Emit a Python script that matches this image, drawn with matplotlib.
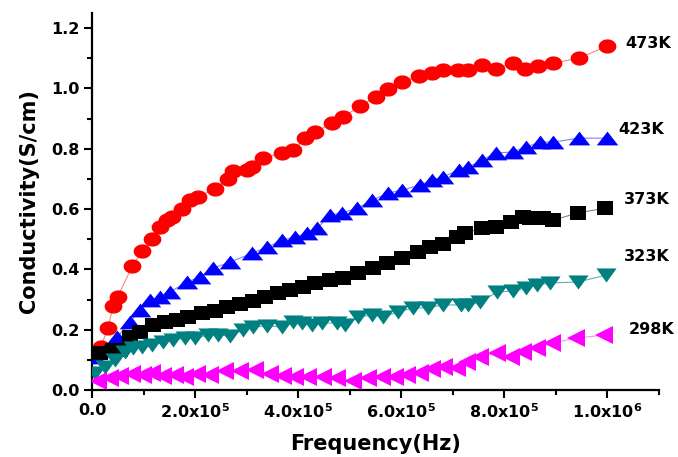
import matplotlib
matplotlib.use("Agg")
import numpy as np
import matplotlib.pyplot as plt
from matplotlib.ticker import MultipleLocator, FixedLocator, FixedFormatter, FormatStrFormatter

plt.rcParams['font.family'] = ['DejaVu Sans']
plt.rcParams['mathtext.fontset'] = 'dejavusans'
plt.rcParams['mathtext.default'] = 'bf'

# Frequency in units of 1e5 Hz, conductivity in S/cm
x_473 = [0.17, 0.31, 0.41, 0.50, 0.78, 0.97, 1.17, 1.32, 1.46, 1.56, 1.75, 1.90, 2.06, 2.39, 2.64, 2.74,
         3.01, 3.10, 3.32, 3.69, 3.90, 4.14, 4.33, 4.66, 4.87, 5.2, 5.5, 5.75, 6.02, 6.35, 6.6, 6.8,
         7.1, 7.3, 7.57, 7.83, 8.16, 8.4, 8.66, 8.95, 9.44, 10.0]
y_473 = [0.143, 0.205, 0.28, 0.31, 0.41, 0.46, 0.50, 0.54, 0.565, 0.575, 0.60, 0.63, 0.64, 0.668, 0.70, 0.725,
         0.73, 0.74, 0.77, 0.785, 0.795, 0.835, 0.855, 0.885, 0.905, 0.941, 0.971, 0.998, 1.021, 1.041, 1.051, 1.061,
         1.061, 1.061, 1.077, 1.064, 1.084, 1.064, 1.074, 1.084, 1.10, 1.14]

x_423 = [0.06, 0.25, 0.49, 0.74, 0.93, 1.13, 1.32, 1.51, 1.84, 2.10, 2.35, 2.68, 3.11, 3.40, 3.69, 3.94,
         4.17, 4.37, 4.62, 4.85, 5.15, 5.44, 5.75, 6.02, 6.37, 6.60, 6.80, 7.11, 7.30, 7.57, 7.83, 8.16,
         8.41, 8.70, 8.95, 9.44, 10.0]
y_423 = [0.109, 0.133, 0.176, 0.225, 0.265, 0.298, 0.308, 0.325, 0.358, 0.375, 0.404, 0.424, 0.454, 0.474, 0.497, 0.507,
         0.520, 0.537, 0.580, 0.587, 0.603, 0.630, 0.653, 0.663, 0.680, 0.696, 0.706, 0.729, 0.739, 0.762, 0.786, 0.789,
         0.805, 0.822, 0.822, 0.835, 0.835]

x_373 = [0.16, 0.41, 0.54, 0.74, 0.93, 1.18, 1.42, 1.65, 1.86, 2.14, 2.39, 2.62, 2.87, 3.13, 3.36, 3.61,
         3.84, 4.10, 4.33, 4.62, 4.87, 5.17, 5.46, 5.73, 6.02, 6.33, 6.56, 6.80, 7.09, 7.24, 7.57, 7.83,
         8.12, 8.37, 8.50, 8.74, 8.95, 9.42, 9.96]
y_373 = [0.123, 0.133, 0.133, 0.176, 0.192, 0.215, 0.225, 0.232, 0.242, 0.255, 0.262, 0.275, 0.285, 0.295, 0.308, 0.322,
         0.331, 0.341, 0.355, 0.365, 0.371, 0.388, 0.404, 0.421, 0.438, 0.457, 0.474, 0.484, 0.507, 0.520, 0.537, 0.540,
         0.557, 0.573, 0.570, 0.570, 0.563, 0.587, 0.603]

x_323 = [0.06, 0.25, 0.45, 0.64, 0.80, 0.97, 1.17, 1.38, 1.57, 1.81, 2.0, 2.25, 2.45, 2.68, 2.93, 3.13,
         3.40, 3.69, 3.90, 4.08, 4.27, 4.47, 4.76, 4.91, 5.17, 5.44, 5.65, 5.94, 6.23, 6.52, 6.80, 7.15,
         7.30, 7.53, 7.86, 8.16, 8.41, 8.64, 8.89, 9.42, 9.98]
y_323 = [0.056, 0.076, 0.099, 0.126, 0.139, 0.143, 0.149, 0.159, 0.166, 0.172, 0.172, 0.182, 0.182, 0.179, 0.199, 0.209,
         0.212, 0.209, 0.225, 0.222, 0.215, 0.222, 0.222, 0.215, 0.242, 0.249, 0.242, 0.259, 0.272, 0.272, 0.282, 0.282,
         0.282, 0.292, 0.325, 0.328, 0.338, 0.348, 0.355, 0.358, 0.381]

x_298 = [0.12, 0.35, 0.54, 0.78, 0.99, 1.17, 1.38, 1.61, 1.81, 2.04, 2.29, 2.58, 2.87, 3.17, 3.46, 3.71,
         3.94, 4.19, 4.49, 4.76, 5.07, 5.36, 5.63, 5.88, 6.12, 6.37, 6.60, 6.82, 7.09, 7.28, 7.53, 7.86,
         8.12, 8.37, 8.64, 8.93, 9.38, 9.94]
y_298 = [0.030, 0.040, 0.046, 0.053, 0.050, 0.056, 0.046, 0.050, 0.043, 0.053, 0.050, 0.063, 0.063, 0.066, 0.053, 0.046,
         0.043, 0.043, 0.043, 0.040, 0.030, 0.040, 0.043, 0.043, 0.050, 0.056, 0.070, 0.076, 0.073, 0.093, 0.109, 0.123,
         0.109, 0.126, 0.139, 0.156, 0.172, 0.182]

series_labels = ['473K', '423K', '373K', '323K', '298K']
label_pos = [(10.35, 1.15), (10.21, 0.865), (10.31, 0.63), (10.31, 0.441), (10.41, 0.199)]
x_ticks = [0, 2, 4, 6, 8, 10]
x_tick_labels = ['0.0', r'2.0x10$^{5}$', r'4.0x10$^{5}$', r'6.0x10$^{5}$', r'8.0x10$^{5}$', r'1.0x10$^{6}$']

# Marker shapes (slightly wide, as in the reference)
t = np.linspace(0, 2 * np.pi, 40)
m_ellipse = np.column_stack([np.cos(t), 0.8 * np.sin(t)])
m_up = [(-1, -0.64), (1, -0.64), (0, 0.64), (-1, -0.64)]
m_down = [(-1, 0.7), (1, 0.7), (0, -0.7), (-1, 0.7)]
m_rect = [(-1, -0.85), (1, -0.85), (1, 0.85), (-1, 0.85), (-1, -0.85)]

fig = plt.figure(figsize=(6.78, 4.57), dpi=100)
ax = fig.add_axes([0.1357, 0.1466, 0.972 - 0.1357, 0.9716 - 0.1466])

styles = [
    (x_473, y_473, m_ellipse, '#ff0000', '#ff8080', 12.8),
    (x_423, y_423, m_up, '#0000ff', '#8080ff', 15.5),
    (x_373, y_373, m_rect, '#000000', '#808080', 11.3),
    (x_323, y_323, m_down, '#008080', '#60b0b0', 14.5),
    (x_298, y_298, '<', '#ff00ff', '#ff90ff', 12.7),
]
for i, (xs, ys, m, c, lc, ms) in enumerate(styles):
    xv = [v * 1e5 for v in xs]
    ax.plot(xv, ys, '-', color=lc, lw=0.8, zorder=2 + i)
    ax.plot(xv, ys, linestyle='none', marker=m, color=c, markersize=ms, markeredgewidth=0, zorder=2 + i)

for lab, (lx, ly) in zip(series_labels, label_pos):
    ax.text(lx * 1e5, ly, lab, fontsize=11.5, fontweight='bold', va='center', ha='left')

ax.set_xlim(0, 1.1e6)
ax.set_ylim(0, 1.25)
ax.xaxis.set_major_locator(FixedLocator([v * 1e5 for v in x_ticks]))
ax.xaxis.set_major_formatter(FixedFormatter(x_tick_labels))
ax.xaxis.set_minor_locator(MultipleLocator(1e5))
ax.yaxis.set_major_locator(MultipleLocator(0.2))
ax.yaxis.set_minor_locator(MultipleLocator(0.1))
ax.yaxis.set_major_formatter(FormatStrFormatter('%.1f'))

for s in ['top', 'right']:
    ax.spines[s].set_visible(False)
for s in ['left', 'bottom']:
    ax.spines[s].set_linewidth(1.6)

ax.tick_params(which='major', length=5.5, width=1.5, labelsize=11.5, direction='out')
ax.tick_params(which='minor', length=3.5, width=1.5, direction='out')
for lbl in ax.get_xticklabels() + ax.get_yticklabels():
    lbl.set_fontweight('bold')

ax.set_xlabel('Frequency(Hz)', fontsize=15, fontweight='bold', labelpad=9)
ax.set_ylabel('Conductivity(S/cm)', fontsize=15, fontweight='bold', labelpad=9)

fig.savefig('out.png', dpi=100)
